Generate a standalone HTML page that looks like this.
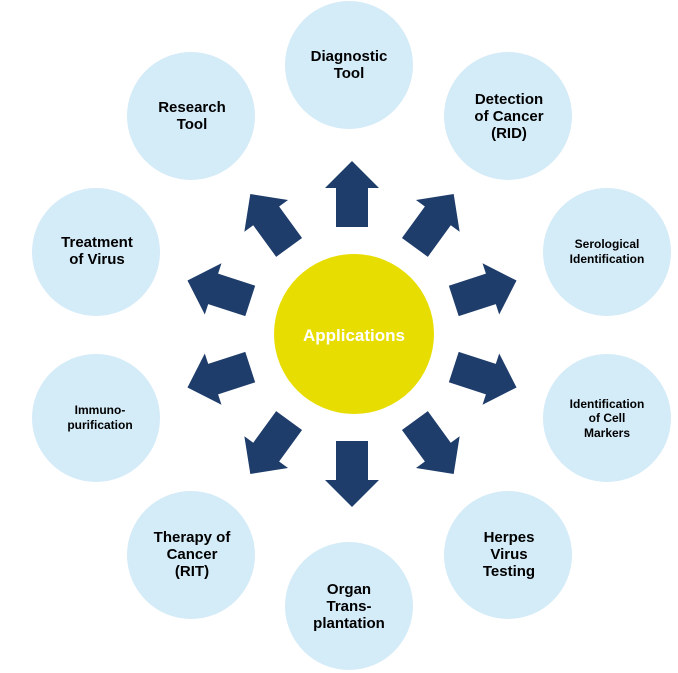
<!DOCTYPE html>
<html><head><style>html,body{margin:0;padding:0;background:#fff}svg{display:block}</style></head><body>
<svg width="678" height="673" viewBox="0 0 678 673" xmlns="http://www.w3.org/2000/svg">
<g fill="#d4ebf8">
<circle cx="349" cy="65" r="64"/>
<circle cx="508" cy="116" r="64"/>
<circle cx="607" cy="252" r="64"/>
<circle cx="607" cy="418" r="64"/>
<circle cx="508" cy="555" r="64"/>
<circle cx="349" cy="606" r="64"/>
<circle cx="191" cy="555" r="64"/>
<circle cx="96" cy="418" r="64"/>
<circle cx="96" cy="252" r="64"/>
<circle cx="191" cy="116" r="64"/>
</g>
<circle cx="354" cy="334" r="80" fill="#e8dd00"/>
<defs><path id="ar" d="M-16,-107 L16,-107 L16,-146 L27,-146 L0,-173 L-27,-146 L-16,-146 Z" fill="#1f3d6b"/></defs>
<g transform="translate(352,334)">
<use href="#ar" transform="rotate(0)"/>
<use href="#ar" transform="rotate(36)"/>
<use href="#ar" transform="rotate(72)"/>
<use href="#ar" transform="rotate(108)"/>
<use href="#ar" transform="rotate(144)"/>
<use href="#ar" transform="rotate(180)"/>
<use href="#ar" transform="rotate(216)"/>
<use href="#ar" transform="rotate(252)"/>
<use href="#ar" transform="rotate(288)"/>
<use href="#ar" transform="rotate(324)"/>
</g>
<g font-family="Liberation Sans, sans-serif" font-weight="bold" font-size="15" fill="#000" text-anchor="middle">
<text x="349" y="61">Diagnostic</text><text x="349" y="78">Tool</text>
<text x="192" y="112">Research</text><text x="192" y="129">Tool</text>
<text x="509" y="104">Detection</text><text x="509" y="121">of Cancer</text><text x="509" y="138">(RID)</text>
<text x="97" y="247">Treatment</text><text x="97" y="264">of Virus</text>
<text x="509" y="542">Herpes</text><text x="509" y="559">Virus</text><text x="509" y="576">Testing</text>
<text x="349" y="594">Organ</text><text x="349" y="611">Trans-</text><text x="349" y="628">plantation</text>
<text x="192" y="542">Therapy of</text><text x="192" y="559">Cancer</text><text x="192" y="576">(RIT)</text>
</g>
<g font-family="Liberation Sans, sans-serif" font-weight="bold" font-size="12" fill="#000" text-anchor="middle">
<text x="607" y="248">Serological</text><text x="607" y="263">Identification</text>
<text x="607" y="408">Identification</text><text x="607" y="422">of Cell</text><text x="607" y="437">Markers</text>
<text x="100" y="414">Immuno-</text><text x="100" y="429">purification</text>
</g>
<text x="354" y="341" font-family="Liberation Sans, sans-serif" font-weight="bold" font-size="17" fill="#fff" text-anchor="middle">Applications</text>
</svg>
</body></html>
